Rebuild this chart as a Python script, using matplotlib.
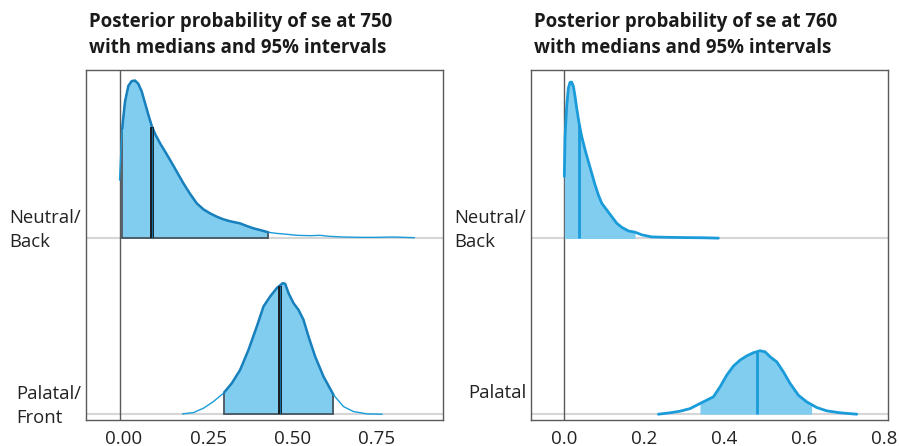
import numpy as np
import matplotlib
matplotlib.use("Agg")
import matplotlib.pyplot as plt
import matplotlib.transforms as mtransforms

plt.rcParams['font.family'] = ['Open Sans', 'DejaVu Sans']

# ---------------- data ----------------
titles = ["Posterior probability of se at 750\nwith medians and 95% intervals",
          "Posterior probability of se at 760\nwith medians and 95% intervals"]

left_labels = ["Palatal/\nFront", "Neutral/\nBack"]
right_labels = ["Palatal", "Neutral/\nBack"]

left_ticks = [0.00, 0.25, 0.50, 0.75]
left_ticklabels = ["0.00", "0.25", "0.50", "0.75"]
right_ticks = [0.0, 0.2, 0.4, 0.6, 0.8]
right_ticklabels = ["0.0", "0.2", "0.4", "0.6", "0.8"]

# 750 / Neutral-Back : scaled density
l_nb_x = [0.0, 0.0045, 0.0094, 0.0164, 0.0263, 0.0362, 0.0461, 0.0560, 0.0660, 0.0759,
          0.0858, 0.0957, 0.1057, 0.1205, 0.1354, 0.1503, 0.1701, 0.1900, 0.2098, 0.2297,
          0.2495, 0.2693, 0.2892, 0.3090, 0.3289, 0.3586, 0.3785, 0.3983, 0.4182, 0.4430,
          0.4678, 0.4975, 0.5273, 0.5670, 0.5967, 0.6265, 0.6662, 0.7158, 0.7654, 0.8150,
          0.8447, 0.8765]
l_nb_h = [0.333, 0.523, 0.656, 0.780, 0.869, 0.896, 0.899, 0.880, 0.837, 0.770,
          0.704, 0.641, 0.595, 0.542, 0.495, 0.447, 0.381, 0.314, 0.254, 0.200,
          0.166, 0.143, 0.124, 0.109, 0.098, 0.086, 0.071, 0.058, 0.048, 0.035,
          0.029, 0.024, 0.018, 0.016, 0.018, 0.012, 0.0085, 0.0066, 0.0066, 0.0085,
          0.0066, 0.0047]
l_nb_ci = [0.0083, 0.442]
l_nb_median = 0.097

# 750 / Palatal-Front
l_pf_x = [0.188, 0.2197, 0.2495, 0.2793, 0.3090, 0.3338, 0.3586, 0.3834, 0.4082, 0.4281,
          0.4479, 0.4678, 0.4856, 0.4926, 0.5025, 0.5174, 0.5322, 0.5471, 0.5620, 0.5818,
          0.6066, 0.6364, 0.6662, 0.6959, 0.7356, 0.7803]
l_pf_h = [0.002, 0.009, 0.034, 0.072, 0.119, 0.176, 0.252, 0.366, 0.499, 0.613,
          0.670, 0.718, 0.746, 0.742, 0.689, 0.632, 0.594, 0.537, 0.442, 0.328,
          0.214, 0.110, 0.043, 0.015, 0.002, 0.0]
l_pf_ci = [0.311, 0.636]
l_pf_median = 0.4766

# 760 / Neutral-Back
r_nb_x = [0.0, 0.0018, 0.0059, 0.0101, 0.0143, 0.0184, 0.0226, 0.0268, 0.0309, 0.0368,
          0.0434, 0.0518, 0.0601, 0.0684, 0.0768, 0.0851, 0.0934, 0.1059, 0.1184, 0.1309,
          0.1434, 0.1601, 0.1768, 0.1934, 0.2184, 0.2518, 0.3101, 0.3518, 0.3851]
r_nb_h = [0.353, 0.581, 0.752, 0.856, 0.889, 0.890, 0.866, 0.809, 0.742, 0.657,
          0.581, 0.505, 0.438, 0.372, 0.305, 0.248, 0.201, 0.163, 0.125, 0.087,
          0.064, 0.043, 0.036, 0.021, 0.009, 0.007, 0.005, 0.004, 0.002]
r_nb_ci = [0.0, 0.1768]
r_nb_median = 0.0375

# 760 / Palatal
r_p_x = [0.2351, 0.2643, 0.2893, 0.3143, 0.3393, 0.3559, 0.3726, 0.3893, 0.4059, 0.4226,
         0.4393, 0.4559, 0.4726, 0.4893, 0.5018, 0.5143, 0.5309, 0.5476, 0.5643, 0.5851,
         0.6059, 0.6309, 0.6559, 0.6893, 0.7309]
r_p_h = [0.0, 0.008, 0.017, 0.032, 0.061, 0.080, 0.099, 0.156, 0.222, 0.274,
         0.308, 0.332, 0.350, 0.361, 0.355, 0.327, 0.298, 0.241, 0.175, 0.108,
         0.070, 0.038, 0.019, 0.008, 0.0]
r_p_ci = [0.339, 0.618]
r_p_median = 0.481

# ---------------- style ----------------
FILL = '#80CDEF'
LINE = '#1A9BDA'
LINE_DARK = '#1880BD'
EDGE = '#4A5560'
FRAME = '#5A5A5A'
GRID = '#D6D6D6'

W, H = 899, 446
fig = plt.figure(figsize=(W / 100, H / 100), dpi=100)

def fig_rect(x0, y0, x1, y1):
    return [x0 / W, 1 - y1 / H, (x1 - x0) / W, (y1 - y0) / H]

axL = fig.add_axes(fig_rect(86, 70, 443, 420))
axR = fig.add_axes(fig_rect(531, 70, 888, 420))

YLIM = (-0.033, 1.959)
LINE_STEP = 24.6  # px between label lines


def ridge(ax, base, xs, hs, ci, med, dark):
    xs = np.asarray(xs, float)
    hs = np.asarray(hs, float)
    lo, hi = ci
    inside = (xs > lo) & (xs < hi)
    xi = np.concatenate([[lo], xs[inside], [hi]])
    hi_h = np.interp(xi, xs, hs)
    ax.fill_between(xi, base, base + hi_h, color=FILL, lw=0, zorder=3)
    if dark:
        ax.plot([lo, lo], [base, base + hi_h[0]], color=EDGE, lw=1.3, zorder=4,
                solid_capstyle='butt')
        ax.plot([hi, hi], [base, base + hi_h[-1]], color=EDGE, lw=1.3, zorder=4,
                solid_capstyle='butt')
        ax.plot([lo, hi], [base, base], color=EDGE, lw=1.3, zorder=4)
        ax.plot(xs, base + hs, color=LINE, lw=1.0, zorder=5)
        ax.plot(xi, base + hi_h, color=LINE_DARK, lw=1.8, zorder=6,
                solid_capstyle='round')
        mh = np.interp(med, xs, hs)
        ax.plot([med, med], [base, base + mh], color='#1A1A1A', lw=2.8, zorder=7,
                solid_capstyle='butt')
        ax.plot([med, med], [base, base + mh], color='#1070A8', lw=0.8, zorder=8,
                solid_capstyle='butt')
    else:
        ax.plot(xs, base + hs, color=LINE, lw=2.0, zorder=5, solid_capstyle='round')
        mh = np.interp(med, xs, hs)
        ax.plot([med, med], [base, base + mh], color=LINE, lw=2.0, zorder=6,
                solid_capstyle='butt')


def setup(ax, xlim, ticks, ticklabels, labels, title, tick_dx):
    ax.set_xlim(*xlim)
    ax.set_ylim(*YLIM)
    for s in ax.spines.values():
        s.set_color(FRAME)
        s.set_linewidth(1.0)
    ax.axvline(0, color=FRAME, lw=1.0, zorder=2)
    for b in (0, 1):
        ax.axhline(b, color=GRID, lw=1.5, zorder=1)
    ax.set_yticks([])
    ax.set_xticks(ticks)
    ax.set_xticklabels(ticklabels, fontsize=13.5, color='#222222')
    ax.tick_params(axis='x', length=0, pad=7)
    if tick_dx:
        off = mtransforms.ScaledTranslation(tick_dx / 100, 0, fig.dpi_scale_trans)
        for lab in ax.get_xticklabels():
            lab.set_transform(lab.get_transform() + off)
    # category labels: first line baseline ~16 px above the ridge baseline
    for b, lab in zip((0, 1), labels):
        nextra = lab.count('\n')
        dy = 16 - nextra * LINE_STEP
        tr = ax.get_yaxis_transform() + mtransforms.ScaledTranslation(
            -5 / 100, dy / 100, fig.dpi_scale_trans)
        ax.text(0, b, lab, transform=tr, ha='right', va='baseline',
                multialignment='left', fontsize=13.3, color='#222222',
                linespacing=1.42)
    ax.text(0.008, 1 + 17 / 350, title, transform=ax.transAxes, ha='left',
            va='baseline', fontsize=13.4, fontweight='bold', color='#1A1A1A',
            linespacing=1.38)


setup(axL, (-0.0997, 0.9619), left_ticks, left_ticklabels, left_labels, titles[0], 4.5)
ridge(axL, 1, l_nb_x, l_nb_h, l_nb_ci, l_nb_median, True)
ridge(axL, 0, l_pf_x, l_pf_h, l_pf_ci, l_pf_median, True)

setup(axR, (-0.0833, 0.809), right_ticks, right_ticklabels, right_labels, titles[1], 0)
ridge(axR, 1, r_nb_x, r_nb_h, r_nb_ci, r_nb_median, False)
ridge(axR, 0, r_p_x, r_p_h, r_p_ci, r_p_median, False)

fig.savefig("out.png", dpi=100)
